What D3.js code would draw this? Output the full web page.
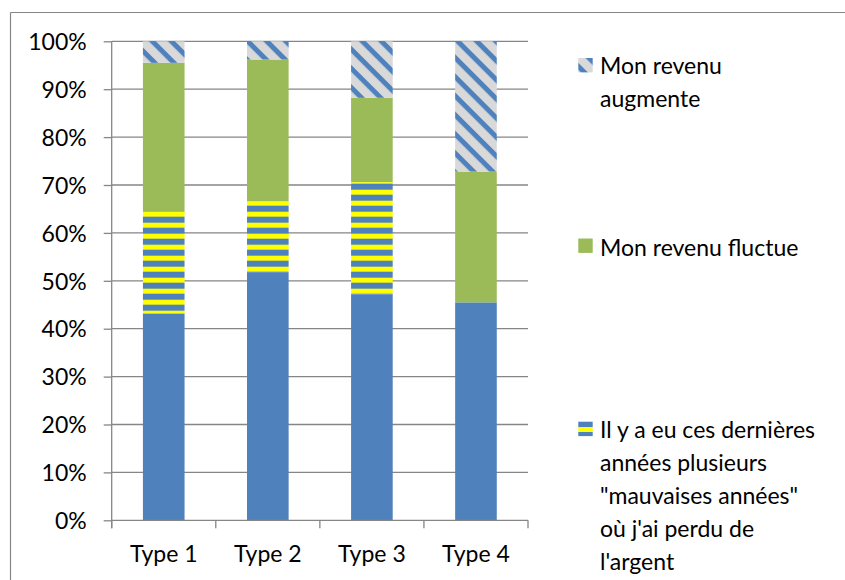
<!DOCTYPE html>
<html>
<head>
<meta charset="utf-8">
<script src="https://cdn.jsdelivr.net/npm/d3@7"></script>
<style>
  html, body { margin: 0; padding: 0; background: #fff; }
  svg { display: block; font-family: Lato, "Open Sans", sans-serif; }
</style>
</head>
<body>
<svg id="chart" width="845" height="580"></svg>
<script>
// ---- data ----
const categories = ["Type 1", "Type 2", "Type 3", "Type 4"];
const seriesNames = ["base", "mauvaises", "fluctue", "augmente"];
const baseValues      = [43.2, 51.8, 47.1, 45.5];
const mauvaisesValues = [21.2, 14.8, 23.5, 0];
const fluctueValues   = [31.1, 29.6, 17.6, 27.3];
const augmenteValues  = [4.5, 3.8, 11.8, 27.2];
const yTicks = [0, 10, 20, 30, 40, 50, 60, 70, 80, 90, 100];
const legendItems = [
  { key: "augmente", lines: ["Mon revenu", "augmente"] },
  { key: "fluctue", lines: ["Mon revenu fluctue"] },
  { key: "mauvaises", lines: ["Il y a eu ces dernières", "années plusieurs", "\"mauvaises années\"", "où j'ai perdu de", "l'argent"] }
];

const rows = categories.map((c, i) => ({
  cat: c,
  base: baseValues[i],
  mauvaises: mauvaisesValues[i],
  fluctue: fluctueValues[i],
  augmente: augmenteValues[i]
}));

const svg = d3.select("#chart");
const BLUE = "#4F81BD", GREEN = "#9BBB59", YELLOW = "#FFFF00", GREY = "#D9D9D9", AXIS = "#868686";

// chart border (top and left visible)
svg.append("line").attr("x1", 10.5).attr("x2", 845).attr("y1", 12.5).attr("y2", 12.5).attr("stroke", AXIS).attr("stroke-width", 1.2);
svg.append("line").attr("x1", 10.5).attr("x2", 10.5).attr("y1", 12.5).attr("y2", 580).attr("stroke", AXIS).attr("stroke-width", 1.2);

const x = d3.scaleBand().domain(categories).range([111.7, 528]).paddingInner(0.6).paddingOuter(0.3);
const y = d3.scaleLinear().domain([0, 100]).range([520.3, 41.3]);

// patterns
const defs = svg.append("defs");
const hp = defs.append("pattern").attr("id", "hstripe").attr("patternUnits", "userSpaceOnUse")
  .attr("x", 0).attr("y", y(0) - 0.6).attr("width", 20).attr("height", 11);
hp.append("rect").attr("width", 20).attr("height", 11).attr("fill", BLUE);
hp.append("rect").attr("width", 20).attr("height", 5).attr("fill", YELLOW);

const hpl = defs.append("pattern").attr("id", "hstripeLegend").attr("patternUnits", "userSpaceOnUse")
  .attr("x", 0).attr("y", 427).attr("width", 20).attr("height", 11);
hpl.append("rect").attr("width", 20).attr("height", 11).attr("fill", BLUE);
hpl.append("rect").attr("width", 20).attr("height", 5).attr("fill", YELLOW);

const dp = defs.append("pattern").attr("id", "diag").attr("patternUnits", "userSpaceOnUse")
  .attr("width", 13.5).attr("height", 13.5).attr("patternTransform", "rotate(45)");
dp.append("rect").attr("width", 13.5).attr("height", 13.5).attr("fill", GREY);
dp.append("rect").attr("x", 0).attr("width", 13.5).attr("height", 5).attr("fill", BLUE);

const fills = { base: BLUE, mauvaises: "url(#hstripe)", fluctue: GREEN, augmente: "url(#diag)" };
const legendFills = { mauvaises: "url(#hstripeLegend)", fluctue: GREEN, augmente: "url(#diag)" };

// gridlines
svg.append("g").selectAll("line").data(yTicks.filter(d => d > 0)).join("line")
  .attr("x1", 111.7).attr("x2", 528)
  .attr("y1", d => y(d)).attr("y2", d => y(d))
  .attr("stroke", AXIS).attr("stroke-width", 1.3);

// bars
const stack = d3.stack().keys(seriesNames);
const stacked = stack(rows);
svg.append("g").selectAll("g").data(stacked).join("g")
  .attr("fill", d => fills[d.key])
  .selectAll("rect").data(d => d).join("rect")
  .attr("x", d => x(d.data.cat))
  .attr("width", x.bandwidth())
  .attr("y", d => y(d[1]))
  .attr("height", d => y(d[0]) - y(d[1]));

// y axis
const yAxis = d3.axisLeft(y).tickValues(yTicks).tickFormat(d => d + "%").tickSize(8).tickPadding(17);
const gy = svg.append("g").attr("transform", "translate(111.7,0)").call(yAxis);
gy.select(".domain").remove();
gy.append("line").attr("x1", 0).attr("x2", 0).attr("y1", y(100)).attr("y2", y(0) + 8).attr("stroke", AXIS).attr("stroke-width", 1.3);
gy.selectAll(".tick line").attr("stroke", AXIS).attr("stroke-width", 1.3);
gy.selectAll(".tick text").attr("font-size", 23).attr("fill", "#000").attr("font-family", "Lato").attr("dy", "0.36em");

// x axis
const xAxis = d3.axisBottom(x).tickSize(0).tickPadding(25);
const gx = svg.append("g").attr("transform", `translate(0,${y(0)})`).call(xAxis);
gx.select(".domain").remove();
gx.append("line").attr("x1", 111.7).attr("x2", 528).attr("y1", 0).attr("y2", 0).attr("stroke", AXIS).attr("stroke-width", 1.3);
const bounds = categories.map(c => x(c) - x.step() * x.paddingInner() / 2).concat([528]);
gx.selectAll(".bound").data(bounds).join("line").attr("class", "bound")
  .attr("x1", d => d).attr("x2", d => d).attr("y1", 0).attr("y2", 8)
  .attr("stroke", AXIS).attr("stroke-width", 1.3);
gx.selectAll(".tick text").attr("font-size", 23).attr("fill", "#000").attr("font-family", "Lato").attr("dy", "0.71em");

// legend
const legendTop = { augmente: 58, fluctue: 238.5, mauvaises: 421.7 };
const legendBase = { augmente: 74, fluctue: 256, mauvaises: 438 };
const lg = svg.append("g");
legendItems.forEach(item => {
  lg.append("rect").attr("x", 578.3).attr("y", legendTop[item.key]).attr("width", 14.4).attr("height", 14.4)
    .attr("fill", legendFills[item.key]);
  const t = lg.append("text").attr("x", 600).attr("y", legendBase[item.key])
    .attr("font-size", 23).attr("font-family", "Lato").attr("fill", "#000");
  item.lines.forEach((l, i) => {
    t.append("tspan").attr("x", 600).attr("dy", i === 0 ? 0 : 33).text(l);
  });
});
</script>
</body>
</html>
